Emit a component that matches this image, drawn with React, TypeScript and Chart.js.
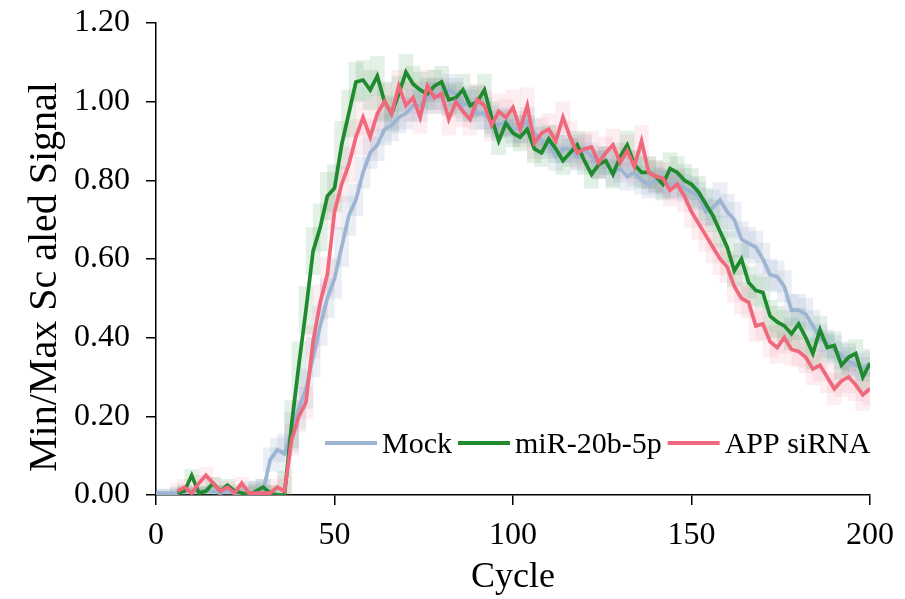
import { useEffect, useRef } from "react";
import { Chart, registerables } from "chart.js";

Chart.register(...registerables);

// Cycle numbers (x categories), every 2 cycles
const cycles = [
  0, 2, 4, 6, 8, 10, 12, 14, 16, 18,
  20, 22, 24, 26, 28, 30, 32, 34, 36, 38,
  40, 42, 44, 46, 48, 50, 52, 54, 56, 58,
  60, 62, 64, 66, 68, 70, 72, 74, 76, 78,
  80, 82, 84, 86, 88, 90, 92, 94, 96, 98,
  100, 102, 104, 106, 108, 110, 112, 114, 116, 118,
  120, 122, 124, 126, 128, 130, 132, 134, 136, 138,
  140, 142, 144, 146, 148, 150, 152, 154, 156, 158,
  160, 162, 164, 166, 168, 170, 172, 174, 176, 178,
  180, 182, 184, 186, 188, 190, 192, 194, 196, 198,
  200,
];

const mock = [
  0.005, 0.005, 0.005, 0.005, 0.01, 0.01, 0.01, 0.01, 0.01, 0.005,
  0.01, 0.005, 0.005, 0.005, 0.005, 0.01, 0.09, 0.115, 0.105, 0.16,
  0.22, 0.27, 0.35, 0.43, 0.5, 0.55, 0.63, 0.71, 0.75, 0.82,
  0.87, 0.89, 0.93, 0.94, 0.96, 0.97, 0.99, 0.99, 1.01, 1.02,
  1.01, 1.03, 1.02, 0.99, 1.0, 0.97, 0.97, 0.95, 0.94, 0.95,
  0.93, 0.93, 0.95, 0.92, 0.9, 0.89, 0.86, 0.88, 0.88, 0.86,
  0.88, 0.86, 0.84, 0.85, 0.82, 0.83, 0.81, 0.82, 0.8, 0.79,
  0.8, 0.79, 0.79, 0.79, 0.78, 0.77, 0.76, 0.72, 0.73, 0.75,
  0.72, 0.7, 0.65, 0.64, 0.63, 0.6, 0.56, 0.555, 0.53, 0.47,
  0.47, 0.46, 0.43, 0.4, 0.385, 0.37, 0.355, 0.34, 0.33, 0.32,
  0.335,
];

const mir20b = [
  null, null, null, 0.005, 0.01, 0.05, 0.005, 0.01, 0.03, 0.01,
  0.025, 0.01, 0.005, 0.0, 0.01, 0.02, 0.005, 0.0, 0.0, 0.18,
  0.33, 0.47, 0.62, 0.68, 0.76, 0.78, 0.89, 0.97, 1.05, 1.055,
  1.03, 1.065, 1.0, 0.97, 1.02, 1.075, 1.045, 1.03, 1.02, 1.04,
  1.05, 1.005, 1.01, 1.03, 0.99, 1.0, 1.03, 0.96, 0.9, 0.945,
  0.92, 0.91, 0.93, 0.88, 0.87, 0.905, 0.88, 0.85, 0.87, 0.89,
  0.85, 0.815, 0.84, 0.85, 0.815, 0.86, 0.89, 0.84, 0.82, 0.82,
  0.81, 0.79, 0.83, 0.82, 0.8, 0.79, 0.77, 0.74, 0.71, 0.67,
  0.63, 0.57, 0.6, 0.54, 0.52, 0.515, 0.455, 0.44, 0.43, 0.41,
  0.435, 0.4, 0.36, 0.42, 0.375, 0.38, 0.33, 0.35, 0.36, 0.3,
  0.335,
];

const appSirna = [
  null, null, null, 0.01, 0.02, 0.005, 0.03, 0.05, 0.03, 0.01,
  0.02, 0.005, 0.03, 0.005, 0.005, 0.005, 0.005, 0.02, 0.01, 0.14,
  0.2, 0.235, 0.39, 0.49, 0.56, 0.72, 0.79, 0.84, 0.91, 0.96,
  0.91, 0.97, 1.0, 0.97, 1.04, 0.99, 1.01, 0.96, 1.04, 1.01,
  1.02, 0.955, 1.0, 0.975, 0.955, 1.005, 0.99, 0.94, 0.975, 0.96,
  0.985, 0.93, 0.99, 0.895, 0.92, 0.93, 0.9, 0.96, 0.91, 0.87,
  0.88, 0.885, 0.845, 0.87, 0.89, 0.845, 0.875, 0.835, 0.9, 0.82,
  0.81, 0.805, 0.775, 0.79, 0.76, 0.72, 0.69, 0.66, 0.63, 0.6,
  0.58, 0.53, 0.5, 0.49, 0.43, 0.435, 0.39, 0.375, 0.4, 0.37,
  0.365, 0.35, 0.32, 0.33, 0.3, 0.27, 0.29, 0.3, 0.28, 0.255,
  0.27,
];

// Error (± half-height of the shaded squares), one value per 10-cycle window (0,10,...,200)
const mockErr = [0.01, 0.01, 0.01, 0.03, 0.05, 0.05, 0.04, 0.04, 0.04, 0.04, 0.035, 0.035, 0.035, 0.035, 0.035, 0.035, 0.045, 0.04, 0.04, 0.035, 0.03];
const mirErr = [0.015, 0.015, 0.015, 0.02, 0.06, 0.06, 0.05, 0.045, 0.04, 0.04, 0.035, 0.035, 0.035, 0.035, 0.04, 0.04, 0.04, 0.04, 0.04, 0.035, 0.035];
const appErr = [0.015, 0.02, 0.015, 0.02, 0.04, 0.045, 0.045, 0.04, 0.04, 0.04, 0.045, 0.04, 0.04, 0.04, 0.04, 0.04, 0.04, 0.04, 0.04, 0.04, 0.04];

const xStep = 50;
const yStep = 0.2;
const xTitle = "Cycle";
const yTitle = "Min/Max Sc aled Signal";

const FONT = '"Liberation Serif", "Times New Roman", Times, serif';

const COLORS = {
  mock: "#9db4d2",
  mir: "#1f8a2e",
  app: "#f0687c",
};
const BANDS = {
  mock: "rgba(120,150,190,0.15)",
  mir: "rgba(40,140,60,0.13)",
  app: "rgba(240,104,124,0.11)",
};

function linePoints(vals: (number | null)[]) {
  return cycles.map((c, i) => ({ x: c, y: vals[i] }));
}
function bandPoints(vals: (number | null)[], err: number[]) {
  return cycles.map((c, i) => {
    const v = vals[i];
    const e = err[Math.round(c / 10)];
    return { x: c, y: v == null ? null : [v - e, v + e] };
  });
}

const insideLegend = {
  id: "insideLegend",
  afterDraw(chart: any) {
    const { ctx, chartArea } = chart;
    const items = chart.data.datasets.filter((d: any) => d.type === "line");
    ctx.save();
    ctx.font = `30px ${FONT}`;
    ctx.textBaseline = "middle";
    ctx.textAlign = "left";
    let x = chartArea.left + 169;
    const y = chartArea.bottom - 52;
    items.forEach((ds: any) => {
      ctx.strokeStyle = ds.borderColor;
      ctx.lineWidth = 4;
      ctx.beginPath();
      ctx.moveTo(x, y);
      ctx.lineTo(x + 52, y);
      ctx.stroke();
      x += 52 + 5;
      ctx.fillStyle = "#000";
      ctx.fillText(ds.label, x, y + 2);
      x += ctx.measureText(ds.label).width + 6;
    });
    ctx.restore();
  },
};

// Y axis title, drawn slightly below the axis centre as in the original
const yTitlePlugin = {
  id: "yTitle",
  afterDraw(chart: any) {
    const { ctx, chartArea } = chart;
    ctx.save();
    ctx.font = `40px ${FONT}`;
    ctx.fillStyle = "#000";
    ctx.textAlign = "center";
    ctx.textBaseline = "middle";
    ctx.translate(45, (chartArea.top + chartArea.bottom) / 2 + 18);
    ctx.rotate(-Math.PI / 2);
    ctx.fillText(yTitle, 0, 0);
    ctx.restore();
  },
};

export default function App() {
  const ref = useRef<HTMLCanvasElement | null>(null);

  useEffect(() => {
    document.body.style.margin = "0";
    const canvas = ref.current;
    if (!canvas) return;

    const band = (label: string, vals: (number | null)[], err: number[], color: string) => ({
      type: "bar" as const,
      label,
      data: bandPoints(vals, err),
      backgroundColor: color,
      borderWidth: 0,
      barThickness: 14,
      grouped: false,
      order: 10,
    });
    const line = (label: string, vals: (number | null)[], color: string, order: number) => ({
      type: "line" as const,
      label,
      data: linePoints(vals),
      borderColor: color,
      backgroundColor: color,
      borderWidth: 3.7,
      pointRadius: 0,
      tension: 0,
      fill: false,
      order,
    });

    const chart = new Chart(canvas, {
      type: "line",
      data: {
        datasets: [
          band("Mock band", mock, mockErr, BANDS.mock),
          band("miR band", mir20b, mirErr, BANDS.mir),
          band("APP band", appSirna, appErr, BANDS.app),
          line("Mock", mock, COLORS.mock, 3),
          line("miR-20b-5p", mir20b, COLORS.mir, 2),
          line("APP siRNA", appSirna, COLORS.app, 1),
        ] as any,
      },
      options: {
        animation: false,
        responsive: false,
        events: [],
        layout: { padding: { top: 23, right: 32, left: 0, bottom: 0 } },
        plugins: {
          legend: { display: false },
          tooltip: { enabled: false },
        },
        scales: {
          x: {
            type: "linear",
            min: 0,
            max: 200,
            offset: false,
            afterFit: (s: any) => {
              s.height = 104;
            },
            ticks: {
              stepSize: xStep,
              autoSkip: false,
              color: "#000",
              font: { family: FONT, size: 32 },
              padding: 11,
              maxRotation: 0,
            },
            grid: {
              offset: false,
              drawOnChartArea: false,
              drawTicks: true,
              tickLength: 10,
              color: "#000",
              lineWidth: 1.5,
            },
            border: { display: true, color: "#000", width: 1.5 },
            title: {
              display: true,
              text: xTitle,
              color: "#000",
              font: { family: FONT, size: 36 },
              padding: { top: 0, bottom: 0 },
            },
          },
          y: {
            type: "linear",
            min: 0,
            max: 1.2,
            afterFit: (s: any) => {
              s.width = 156;
              s.paddingTop = 0;
              s.paddingBottom = 0;
            },
            ticks: {
              stepSize: yStep,
              autoSkip: false,
              color: "#000",
              font: { family: FONT, size: 32 },
              padding: 16,
              callback: (v: any) => Number(v).toFixed(2),
            },
            grid: {
              offset: false,
              drawOnChartArea: false,
              drawTicks: true,
              tickLength: 10,
              color: "#000",
              lineWidth: 1.5,
            },
            border: { display: true, color: "#000", width: 1.5 },
            title: { display: false },
          },
        },
      } as any,
      plugins: [insideLegend, yTitlePlugin],
    });

    return () => chart.destroy();
  }, []);

  return (
    <div style={{ width: 905, height: 599 }}>
      <canvas ref={ref} width={905} height={599} style={{ display: "block" }} />
    </div>
  );
}
